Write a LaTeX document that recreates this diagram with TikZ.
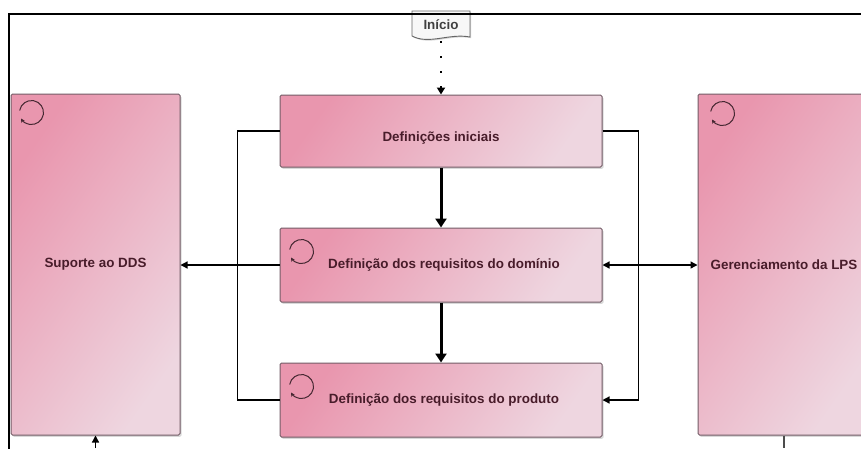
\documentclass[tikz,border=0pt]{standalone}
\usepackage{fontspec}
\setmainfont{Liberation Sans}
\usetikzlibrary{arrows.meta,shadows,calc}
\definecolor{pinkA}{RGB}{233,150,174}
\definecolor{pinkB}{RGB}{238,214,224}
\definecolor{txt}{RGB}{72,28,42}
\definecolor{edgec}{RGB}{115,92,102}
\definecolor{iconc}{RGB}{70,40,50}
\tikzset{
  box/.style={draw=edgec, line width=1pt, rounded corners=1.5pt,
    left color=pinkA, right color=pinkB, shading angle=55,
    drop shadow={shadow xshift=1.5pt, shadow yshift=-1.8pt, opacity=0.3},
    font=\bfseries\fontsize{13.4}{15}\selectfont, text=txt, inner sep=0pt},
  conn/.style={draw=black, line width=1.3pt},
  tip/.style={-{Triangle[length=7pt,width=7pt]}},
  tipboth/.style={{Triangle[length=7pt,width=7pt]}-{Triangle[length=7pt,width=7pt]}},
  bigarrow/.style={draw=black, line width=3pt, -{Triangle[length=9pt,width=11pt]}},
  loopic/.style={draw=iconc, line width=1pt, -{Stealth[length=4pt,width=4pt]}},
  doc/.style={draw=gray!80!black, line width=0.9pt, fill=gray!6,
    drop shadow={shadow xshift=1.2pt, shadow yshift=-1.2pt, opacity=0.35}},
}
\begin{document}
\begin{tikzpicture}[x=1pt,y=-1pt]
\useasboundingbox (0,0) rectangle (861,448);
\fill[white] (0,0) rectangle (861,448);

% start document shape
\coordinate (inic) at (441,25);
\coordinate (inib) at (441,41);
\path[doc] ($(inic)+(-29,-14)$) -- ($(inic)+(-29,11)$)
  .. controls ($(inic)+(-12,20)$) and ($(inic)+(8,8)$) .. ($(inic)+(29,12)$)
  -- ($(inic)+(29,-14)$) -- cycle;
\node[font=\bfseries\fontsize{13.4}{15}\selectfont, text=black!75] (ini) at (inic) {Início};

% frame
\draw[line width=2pt, line cap=rect] (8.5,448) -- (8.5,14) -- (861,14);

% boxes
\node[box, minimum width=322pt, minimum height=72pt] (b1) at (441,131) {\raisebox{-10.5pt}[0pt][0pt]{Definições iniciais}};
\node[box, minimum width=322pt, minimum height=74pt] (b2) at (441,265) {\hspace*{6pt}Definição dos requisitos do domínio};
\node[box, minimum width=322pt, minimum height=74pt] (b3) at (441,400) {\hspace*{6pt}Definição dos requisitos do produto};
\node[box, minimum width=169pt, minimum height=341pt] (lb) at (95.5,264.5) {Suporte ao DDS};
\node[box, minimum width=172pt, minimum height=341pt] (rb) at (784,264.5) {Gerenciamento da LPS};

% loop icons
\draw[loopic] ($(lb.north west)+(21,19)$) ++(170:12pt) arc[start angle=170, end angle=-150, radius=12pt];
\draw[loopic] ($(rb.north west)+(25,20)$) ++(170:12pt) arc[start angle=170, end angle=-150, radius=12pt];
\draw[loopic] ($(b2.north west)+(22,24)$) ++(170:12pt) arc[start angle=170, end angle=-150, radius=12pt];
\draw[loopic] ($(b3.north west)+(22,24)$) ++(170:12pt) arc[start angle=170, end angle=-150, radius=12pt];

% connectors
\draw[line width=2pt, dash pattern=on 2pt off 13pt, -{Triangle[length=7pt,width=8pt]}] (inib) -- (b1.north);
\draw[bigarrow] (b1.south) -- (b2.north);
\draw[bigarrow] (b2.south) -- (b3.north);
\draw[conn] (b1.west) -- ++(-42,0) |- (b3.west);
\draw[conn, tip] (b1.east) -- ++(36,0) |- (b3.east);
\draw[conn, tip] (b2.west) -- (lb.east |- b2.west);
\draw[conn, tipboth] (b2.east) -- (rb.west |- b2.east);
\coordinate (lbin) at (95.5,448);
\coordinate (rbout) at (784,448);
\draw[conn, tip] (lbin) -- (lb.south);
\draw[conn, draw=gray!60!black] (rb.south) -- (rbout);
\end{tikzpicture}
\end{document}
